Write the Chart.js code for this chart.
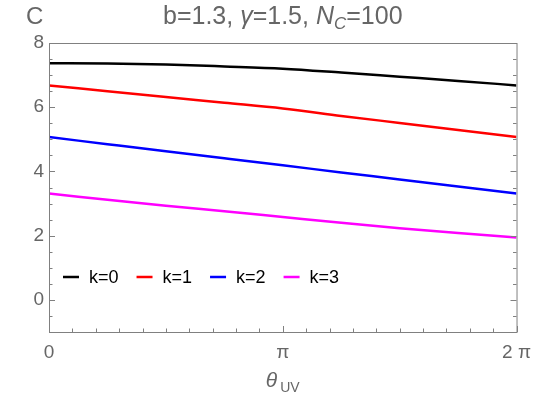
<!DOCTYPE html>
<html>
<head>
<meta charset="utf-8">
<script src="https://cdn.jsdelivr.net/npm/chart.js@4"></script>
<style>
  html, body { margin: 0; padding: 0; background: #fff; }
  #wrap { width: 540px; height: 397px; }
</style>
</head>
<body>
<div id="wrap"><canvas id="cplot"></canvas></div>
<script>
// theta_UV sample points, in units of pi
const thetaOverPi = [0, 0.25, 0.5, 0.75, 1, 1.25, 1.5, 1.75, 2];
const seriesNames = ['k=0', 'k=1', 'k=2', 'k=3'];
const k0 = [7.37, 7.36, 7.33, 7.27, 7.20, 7.08, 6.95, 6.82, 6.68];
const k1 = [6.68, 6.50, 6.32, 6.14, 5.96, 5.73, 5.51, 5.29, 5.07];
const k2 = [5.07, 4.85, 4.63, 4.41, 4.19, 3.97, 3.75, 3.53, 3.31];
const k3 = [3.31, 3.12, 2.93, 2.76, 2.58, 2.40, 2.23, 2.08, 1.94];
const seriesColors = ['#000000', '#ff0000', '#0000ff', '#ff00ff'];
const xTickValues = [0, Math.PI, 2 * Math.PI];
const xTickLabels = ['0', 'π', '2 π'];
const yTickValues = [0, 2, 4, 6, 8];

const FONT = '"Liberation Sans", Arial, sans-serif';
const GREY = '#666666';
const FRAME = '#808080';

function toPoints(vals) {
  return vals.map((v, i) => ({ x: thetaOverPi[i] * Math.PI, y: v }));
}

const data = {
  datasets: [k0, k1, k2, k3].map((vals, i) => ({
    label: seriesNames[i],
    data: toPoints(vals),
    borderColor: seriesColors[i],
    backgroundColor: seriesColors[i],
    borderWidth: 2.5,
    pointRadius: 0,
    cubicInterpolationMode: 'monotone',
    fill: false
  }))
};

// frame, inward ticks, legend, title and axis labels
const decor = {
  id: 'decor',
  afterDatasetsDraw(chart) {
    const ctx = chart.ctx;
    const a = chart.chartArea;
    const xs = chart.scales.x, ys = chart.scales.y;
    ctx.save();
    ctx.textAlign = 'left';
    ctx.strokeStyle = FRAME;
    ctx.lineWidth = 1;
    ctx.strokeRect(a.left + 0.5, a.top + 0.5, a.right - a.left, a.bottom - a.top);

    ctx.beginPath();
    // y ticks every 0.5, on left and right
    for (let v = -1; v <= 8.001; v += 0.5) {
      const y = Math.round(ys.getPixelForValue(v)) + 0.5;
      const len = Math.abs(v - Math.round(v / 2) * 2) < 1e-6 ? 6 : 3.5;
      ctx.moveTo(a.left, y); ctx.lineTo(a.left + len, y);
      ctx.moveTo(a.right, y); ctx.lineTo(a.right - len, y);
    }
    // x ticks every pi/10, bottom only
    for (let i = 0; i <= 20; i++) {
      const x = Math.round(xs.getPixelForValue(i * Math.PI / 10)) + 0.5;
      const len = i % 10 === 0 ? 6 : 3.5;
      ctx.moveTo(x, a.bottom); ctx.lineTo(x, a.bottom - len);
    }
    ctx.stroke();

    // legend inside the plot
    ctx.font = '18px ' + FONT;
    ctx.textBaseline = 'middle';
    let lx = a.left + 14;
    const ly = 277;
    chart.data.datasets.forEach(ds => {
      ctx.strokeStyle = ds.borderColor;
      ctx.lineWidth = 2.5;
      ctx.beginPath();
      ctx.moveTo(lx, ly); ctx.lineTo(lx + 16, ly);
      ctx.stroke();
      ctx.fillStyle = '#000';
      ctx.fillText(ds.label, lx + 26, ly + 1);
      lx += 26 + ctx.measureText(ds.label).width + 18;
    });

    // title with italic symbols and subscript
    const parts = [
      ['b=1.3, ', '', 25, 0], ['γ', 'italic ', 25, 0], ['=1.5, ', '', 25, 0],
      ['N', 'italic ', 25, 0], ['C', 'italic ', 17, 5], ['=100', '', 25, 0]
    ];
    ctx.fillStyle = GREY;
    ctx.textBaseline = 'alphabetic';
    let w = 0;
    parts.forEach(p => { ctx.font = p[1] + p[2] + 'px ' + FONT; w += ctx.measureText(p[0]).width; });
    let tx = (a.left + a.right) / 2 - w / 2;
    parts.forEach(p => {
      ctx.font = p[1] + p[2] + 'px ' + FONT;
      ctx.fillText(p[0], tx, 24 + p[3]);
      tx += ctx.measureText(p[0]).width;
    });

    // y axis label at top left
    ctx.font = '24px ' + FONT;
    ctx.fillText('C', 26, 24);

    // x axis label
    ctx.font = 'italic 21px ' + FONT;
    const tw = ctx.measureText('θ').width;
    ctx.font = '14px ' + FONT;
    const sw = ctx.measureText('UV').width;
    let ax = (a.left + a.right) / 2 - (tw + 3 + sw) / 2;
    ctx.font = 'italic 21px ' + FONT;
    ctx.fillText('θ', ax, 387);
    ctx.font = '14px ' + FONT;
    ctx.fillText('UV', ax + tw + 3, 392);
    ctx.restore();
  }
};

const config = {
  type: 'line',
  data,
  options: {
    responsive: true,
    maintainAspectRatio: false,
    animation: false,
    layout: { padding: { top: 43, right: 22, left: 0, bottom: 0 } },
    plugins: { legend: { display: false }, title: { display: false }, tooltip: { enabled: false } },
    scales: {
      x: {
        type: 'linear',
        min: 0,
        max: 2 * Math.PI,
        grid: { display: false, drawTicks: false },
        border: { display: false },
        afterBuildTicks: s => { s.ticks = xTickValues.map(v => ({ value: v })); },
        afterFit: s => { s.height = 65; },
        ticks: {
          color: GREY,
          font: { family: FONT, size: 19 },
          padding: 9,
          maxRotation: 0,
          autoSkip: false,
          callback: (v) => xTickLabels[xTickValues.findIndex(t => Math.abs(t - v) < 1e-9)]
        }
      },
      y: {
        min: -1,
        max: 8,
        grid: { display: false, drawTicks: false },
        border: { display: false },
        afterBuildTicks: s => { s.ticks = yTickValues.map(v => ({ value: v })); },
        afterFit: s => { s.width = 49; },
        ticks: {
          color: GREY,
          font: { family: FONT, size: 19 },
          padding: 5
        }
      }
    }
  },
  plugins: [decor]
};

function chart() {
  new Chart(document.getElementById('cplot'), config);
}
window.addEventListener('load', chart);
</script>
</body>
</html>
